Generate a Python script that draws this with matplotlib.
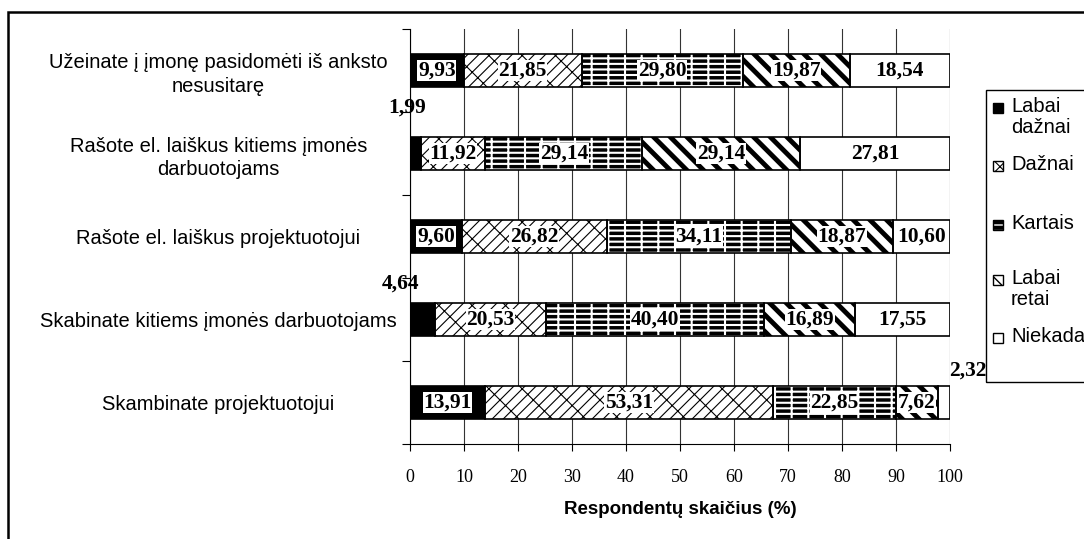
import numpy as np
import matplotlib
matplotlib.use("Agg")
import matplotlib.pyplot as plt
from matplotlib.patches import Rectangle

# data
categories = [
    "Užeinate į įmonę pasidomėti iš anksto\nnesusitarę",
    "Rašote el. laiškus kitiems įmonės\ndarbuotojams",
    "Rašote el. laiškus projektuotojui",
    "Skabinate kitiems įmonės darbuotojams",
    "Skambinate projektuotojui",
]
series_names = ["Labai\ndažnai", "Dažnai", "Kartais", "Labai\nretai", "Niekada"]
labai_daznai = [9.93, 1.99, 9.60, 4.64, 13.91]
daznai = [21.85, 11.92, 26.82, 20.53, 53.31]
kartais = [29.80, 29.14, 34.11, 40.40, 22.85]
labai_retai = [19.87, 29.14, 18.87, 16.89, 7.62]
niekada = [18.54, 27.81, 10.60, 17.55, 2.32]
x_ticks = list(range(0, 101, 10))
x_label = "Respondentų skaičius (%)"

# styles: face, hatch, hatch colour, hatch width
styles = [
    ("black", None, "black", 1.0),
    ("white", "///\\", "black", 0.8),
    ("black", "---|", "white", 1.5),
    ("white", "\\\\", "black", 3.5),
    ("white", None, "black", 1.0),
]
# offsets (px) of labels for the thin segments drawn outside the bar
outside_offsets = {(1, 0): (-8, 46), (3, 0): (-22, 36), (4, 4): (24, 32)}

sans = ["Liberation Sans", "DejaVu Sans"]
serif = ["Liberation Serif", "DejaVu Serif"]

W, H = 1084, 539
fig = plt.figure(figsize=(W / 100, H / 100), dpi=100)
ax = fig.add_axes([410 / W, 1 - 444 / H, 540 / W, 415 / H])

values = np.array([labai_daznai, daznai, kartais, labai_retai, niekada])
y = np.arange(1, len(categories) + 1)
left = np.zeros(len(categories))
bar_h = 0.4

for i, row in enumerate(values):
    face, hatch, hcol, hlw = styles[i]
    with plt.rc_context({"hatch.linewidth": hlw}):
        ax.barh(y, row, left=left, height=bar_h, color=face, hatch=hatch,
                edgecolor=hcol, linewidth=0, zorder=2)
    ax.barh(y, row, left=left, height=bar_h, fill=False, edgecolor="black",
            linewidth=1.2, zorder=3)
    for j, v in enumerate(row):
        txt = f"{v:.2f}".replace(".", ",")
        cx = left[j] + v / 2
        if (j, i) in outside_offsets:
            ax.annotate(txt, (cx, y[j]), xytext=outside_offsets[(j, i)],
                        textcoords="offset pixels", ha="center", va="center",
                        family=serif, fontweight="bold", fontsize=15.5, zorder=5)
        else:
            ax.text(cx, y[j], txt, ha="center", va="center", family=serif,
                    fontweight="bold", fontsize=15.5, zorder=5,
                    bbox=dict(facecolor="white", edgecolor="none", pad=0.5))
    left += row

ax.set_xlim(0, 100)
ax.set_ylim(len(categories) + 0.5, 0.5)
ax.set_xticks(x_ticks)
ax.set_xticklabels([str(t) for t in x_ticks], family=serif, fontsize=13)
ax.tick_params(axis="x", length=5, width=0.8, pad=13, direction="out")
ax.set_yticks(y)
ax.set_yticklabels(categories, family=sans, fontsize=14.5, ha="center",
                   multialignment="center", linespacing=1.3)
ax.tick_params(axis="y", which="major", length=0, pad=138)
ax.set_yticks(np.arange(0.5, len(categories) + 1, 1), minor=True)
ax.tick_params(axis="y", which="minor", length=6, width=0.8)
ax.grid(axis="x", color="#333333", linewidth=0.8, zorder=0)
ax.set_axisbelow(True)
for s in ["top", "right"]:
    ax.spines[s].set_visible(False)
for s in ["left", "bottom"]:
    ax.spines[s].set_linewidth(0.8)
ax.set_xlabel(x_label, family=sans, fontweight="bold", fontsize=13.5, labelpad=11)

# outer frame
fig.add_artist(Rectangle((8 / W, -0.05), 1.1, 1 - 12 / H + 0.05,
                         transform=fig.transFigure, fill=False,
                         edgecolor="black", linewidth=1.8))

# legend box
fig.add_artist(Rectangle((986 / W, 1 - 382 / H), 0.2, (382 - 90) / H,
                         transform=fig.transFigure, fill=False,
                         edgecolor="black", linewidth=1))
legend_y = [108, 166, 225, 280, 338]
for i, name in enumerate(series_names):
    face, hatch, hcol, hlw = styles[i]
    yy = 1 - legend_y[i] / H
    with plt.rc_context({"hatch.linewidth": min(hlw, 1.0)}):
        fig.add_artist(Rectangle((993 / W, yy - 5 / H), 10 / W, 10 / H,
                                 transform=fig.transFigure, facecolor=face,
                                 hatch=hatch, edgecolor=hcol, linewidth=0))
    fig.add_artist(Rectangle((993 / W, yy - 5 / H), 10 / W, 10 / H,
                             transform=fig.transFigure, fill=False,
                             edgecolor="black", linewidth=1))
    fig.text(1011 / W, yy + 11 / H, name, family=sans, fontsize=14.5,
             ha="left", va="top", linespacing=1.15)

fig.savefig("out.png", dpi=100)
